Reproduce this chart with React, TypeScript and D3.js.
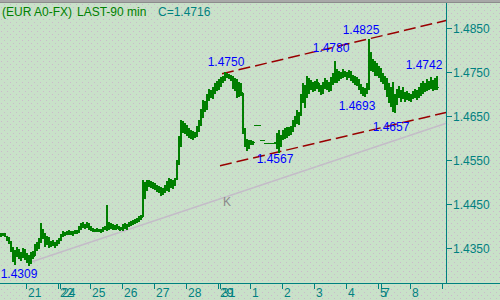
import React from "react";
import * as d3 from "d3";

const highs = [
  1.4384,1.4385,1.4383,1.4378,1.4374,1.4366,1.4352,1.4345,1.4352,1.4348,
  1.4342,1.4350,1.4347,1.4338,1.4334,1.4340,1.4344,1.4358,1.4364,1.4372,
  1.4407,1.4394,1.4384,1.4378,1.4376,1.4366,1.4368,1.4364,1.4368,1.4372,
  1.4382,1.4388,1.4387,1.4388,1.4390,1.4389,1.4388,1.4390,1.4392,1.4400,
  1.4406,1.4409,1.4404,1.4408,1.4406,1.4400,1.4396,1.4394,1.4396,1.4394,
  1.4393,1.4398,1.4400,1.4448,1.4408,1.4406,1.4404,1.4402,1.4404,1.4400,
  1.4398,1.4405,1.4406,1.4404,1.4410,1.4412,1.4414,1.4416,1.4418,1.4422,
  1.4425,1.4505,1.4500,1.4505,1.4504,1.4502,1.4500,1.4498,1.4494,1.4492,
  1.4488,1.4486,1.4494,1.4502,1.4508,1.4506,1.4504,1.4510,1.4550,1.4605,
  1.4641,1.4638,1.4634,1.4630,1.4622,1.4618,1.4616,1.4614,1.4628,1.4641,
  1.4665,1.4686,1.4684,1.4700,1.4712,1.4710,1.4716,1.4724,1.4730,1.4734,
  1.4738,1.4742,1.4750,1.4748,1.4746,1.4744,1.4740,1.4736,1.4734,1.4728,
  1.4726,1.4702,1.4622,1.4598,1.4596,1.4595,1.4594,1.4630,1.4630,1.4630,
  1.4595,1.4595,1.4589,1.4589,1.4589,1.4589,1.4589,1.4590,1.4612,1.4618,
  1.4606,1.4618,1.4622,1.4625,1.4624,1.4628,1.4640,1.4650,1.4664,1.4660,
  1.4700,1.4726,1.4720,1.4742,1.4736,1.4732,1.4728,1.4730,1.4734,1.4726,
  1.4720,1.4728,1.4736,1.4732,1.4728,1.4738,1.4748,1.4775,1.4756,1.4752,
  1.4750,1.4756,1.4752,1.4750,1.4754,1.4752,1.4744,1.4740,1.4738,1.4734,
  1.4722,1.4716,1.4714,1.4724,1.4825,1.4795,1.4780,1.4776,1.4770,1.4764,
  1.4758,1.4748,1.4742,1.4736,1.4724,1.4716,1.4728,1.4700,1.4712,1.4718,
  1.4708,1.4716,1.4704,1.4706,1.4702,1.4700,1.4706,1.4712,1.4708,1.4716,
  1.4724,1.4730,1.4726,1.4734,1.4730,1.4738,1.4732,1.4736,1.4742,
];

const lows = [
  1.4376,1.4377,1.4374,1.4366,1.4358,1.4340,1.4318,1.4312,1.4330,1.4326,
  1.4320,1.4328,1.4322,1.4316,1.4309,1.4314,1.4326,1.4332,1.4344,1.4348,
  1.4362,1.4370,1.4352,1.4356,1.4350,1.4352,1.4355,1.4350,1.4354,1.4358,
  1.4366,1.4376,1.4378,1.4380,1.4380,1.4379,1.4378,1.4381,1.4382,1.4384,
  1.4392,1.4396,1.4394,1.4396,1.4392,1.4389,1.4386,1.4386,1.4387,1.4386,
  1.4385,1.4387,1.4390,1.4388,1.4392,1.4394,1.4392,1.4391,1.4393,1.4390,
  1.4390,1.4389,1.4393,1.4392,1.4398,1.4400,1.4402,1.4404,1.4406,1.4410,
  1.4414,1.4420,1.4462,1.4480,1.4488,1.4486,1.4484,1.4482,1.4478,1.4474,
  1.4468,1.4470,1.4476,1.4480,1.4478,1.4486,1.4484,1.4492,1.4504,1.4538,
  1.4580,1.4612,1.4608,1.4604,1.4600,1.4598,1.4596,1.4600,1.4602,1.4614,
  1.4628,1.4646,1.4660,1.4664,1.4684,1.4690,1.4688,1.4700,1.4706,1.4710,
  1.4716,1.4724,1.4730,1.4736,1.4734,1.4730,1.4712,1.4706,1.4690,1.4694,
  1.4696,1.4610,1.4580,1.4570,1.4575,1.4584,1.4585,1.4630,1.4630,1.4630,
  1.4595,1.4595,1.4589,1.4589,1.4589,1.4589,1.4589,1.4586,1.4574,1.4567,
  1.4580,1.4596,1.4598,1.4600,1.4604,1.4606,1.4614,1.4624,1.4632,1.4630,
  1.4650,1.4680,1.4668,1.4690,1.4700,1.4708,1.4704,1.4706,1.4712,1.4704,
  1.4698,1.4700,1.4712,1.4710,1.4704,1.4706,1.4720,1.4726,1.4724,1.4730,
  1.4734,1.4736,1.4738,1.4732,1.4736,1.4730,1.4724,1.4720,1.4718,1.4710,
  1.4700,1.4696,1.4694,1.4700,1.4708,1.4752,1.4750,1.4742,1.4740,1.4736,
  1.4728,1.4722,1.4708,1.4694,1.4680,1.4670,1.4660,1.4657,1.4676,1.4690,
  1.4682,1.4688,1.4682,1.4686,1.4684,1.4682,1.4688,1.4690,1.4686,1.4692,
  1.4696,1.4700,1.4704,1.4706,1.4708,1.4712,1.4706,1.4708,1.4710,
];

const closes = [
  1.4380,1.4381,1.4377,1.4370,1.4362,1.4348,1.4330,1.4338,1.4344,1.4332,
  1.4335,1.4346,1.4330,1.4324,1.4318,1.4336,1.4332,1.4354,1.4350,1.4368,
  1.4388,1.4376,1.4366,1.4372,1.4358,1.4360,1.4362,1.4356,1.4364,1.4368,
  1.4378,1.4384,1.4382,1.4384,1.4386,1.4383,1.4385,1.4386,1.4388,1.4396,
  1.4402,1.4400,1.4398,1.4404,1.4394,1.4392,1.4390,1.4388,1.4392,1.4389,
  1.4388,1.4394,1.4395,1.4396,1.4404,1.4398,1.4396,1.4394,1.4400,1.4392,
  1.4394,1.4400,1.4396,1.4402,1.4406,1.4404,1.4410,1.4412,1.4414,1.4418,
  1.4420,1.4470,1.4490,1.4498,1.4494,1.4496,1.4488,1.4492,1.4484,1.4480,
  1.4476,1.4482,1.4490,1.4484,1.4500,1.4492,1.4498,1.4506,1.4540,1.4590,
  1.4630,1.4620,1.4626,1.4612,1.4606,1.4602,1.4610,1.4604,1.4622,1.4636,
  1.4658,1.4680,1.4670,1.4694,1.4706,1.4700,1.4712,1.4718,1.4722,1.4728,
  1.4732,1.4736,1.4744,1.4742,1.4740,1.4734,1.4720,1.4728,1.4700,1.4718,
  1.4704,1.4620,1.4590,1.4584,1.4590,1.4590,1.4592,1.4630,1.4630,1.4630,
  1.4595,1.4595,1.4589,1.4589,1.4589,1.4589,1.4589,1.4588,1.4600,1.4596,
  1.4598,1.4612,1.4604,1.4618,1.4610,1.4620,1.4636,1.4644,1.4640,1.4656,
  1.4690,1.4700,1.4712,1.4730,1.4718,1.4726,1.4712,1.4722,1.4728,1.4710,
  1.4714,1.4716,1.4730,1.4718,1.4712,1.4730,1.4742,1.4736,1.4746,1.4740,
  1.4742,1.4748,1.4744,1.4740,1.4746,1.4736,1.4730,1.4728,1.4722,1.4716,
  1.4706,1.4702,1.4708,1.4716,1.4790,1.4770,1.4758,1.4762,1.4748,1.4742,
  1.4734,1.4730,1.4716,1.4700,1.4690,1.4706,1.4676,1.4680,1.4700,1.4694,
  1.4700,1.4696,1.4690,1.4700,1.4692,1.4690,1.4702,1.4698,1.4694,1.4710,
  1.4704,1.4718,1.4712,1.4726,1.4716,1.4722,1.4718,1.4720,1.4716,
];

const firstOpen = 1.4382;

// day ticks (bar index positions) and labels
const dayTickIdx = [12.5, 28.5, 29.5, 44.5, 60.5, 76.5, 92.5, 108.5, 109.5, 124.5, 140.5, 156.5, 172.5, 188.5, 190, 204.5, 220.5];
const dayLabels = ["21", "22", "24", "25", "26", "27", "28", "29", "31", "1", "2", "3", "4", "5", "7", "8", ""];

const yMajorTicks = [1.435, 1.445, 1.455, 1.465, 1.475, 1.485];
const yMinorTicks = [1.43, 1.44, 1.45, 1.46, 1.47, 1.48];

// annotations: text, bar index, price, pixel offsets
const annoTexts = ["1.4750", "1.4780", "1.4825", "1.4742", "1.4693", "1.4657", "1.4567", "1.4309"];
const annoIdx = [112, 165, 184, 218, 181, 197, 139, 14];
const annoPrice = [1.475, 1.478, 1.4825, 1.4742, 1.4693, 1.4657, 1.4567, 1.4309];
const annoDx = [1, 0, -8, -13, -6, -4, -4, -10];
const annoDy = [-6, -7, -5, -7, 13, 18, 10, 12];

// trend lines: [startIdx, startPrice, endIdx, endPrice]
const upperLine = [110.5, 1.4746, 222.5, 1.4867];
const lowerLine = [109.5, 1.4537, 222.5, 1.4658];
const grayLine = [13.5, 1.4316, 223, 1.4634];

const TITLE_LEFT = "(EUR A0-FX)";
const TITLE_MID = "LAST-90 min";
const TITLE_C = "C=1.4716";

const W = 500;
const H = 300;
const AXIS_X = 446;
const AXIS_Y = 283;
const FONT = "'Liberation Sans', Arial, sans-serif";
const TEAL = "#008080";
const GREEN = "#007f00";

export default function App() {
  const x = d3.scaleLinear().domain([0, 220]).range([1, 441]);
  const y = d3.scaleLinear().domain([1.435, 1.485]).range([248, 28]);
  const fmt = d3.format(".4f");
  const px = (v: number) => Math.round(v) + 0.5;

  const lineGen = d3
    .line<[number, number]>()
    .x((d) => x(d[0]))
    .y((d) => y(d[1]));

  const seg = (l: number[]) => lineGen([[l[0], l[1]], [l[2], l[3]]]) || "";
  const grayAt = (i: number) =>
    grayLine[1] + ((i - grayLine[0]) * (grayLine[3] - grayLine[1])) / (grayLine[2] - grayLine[0]);

  return (
    <div style={{ width: W, height: H }}>
      <style>{`body{margin:0;}`}</style>
      <svg width={W} height={H} style={{ display: "block" }} fontFamily={FONT}>
        <defs>
          <pattern id="dots" width="6" height="6" patternUnits="userSpaceOnUse">
            <rect width="6" height="6" fill="#c9e1c9" />
            <rect x="1" y="1" width="1" height="1" fill="#ccb8cc" />
            <rect x="4" y="4" width="1" height="1" fill="#ccb8cc" />
          </pattern>
        </defs>
        <rect x={0} y={0} width={W} height={H} fill="url(#dots)" />
        <rect x={0} y={0} width={W} height={3} fill="#a8a8a8" />
        <line x1={0} x2={W} y1={2.5} y2={2.5} stroke="#8c8c8c" />

        {/* title */}
        <text x={2} y={16} fontSize={12} fill="#008000">{TITLE_LEFT}</text>
        <text x={77} y={16} fontSize={12} fill="#008000">{TITLE_MID}</text>
        <text x={158} y={16} fontSize={12} fill={TEAL}>{TITLE_C}</text>

        {/* gray trend line */}
        <path d={seg(grayLine)} stroke="#c4bcc8" strokeWidth={1.5} fill="none" />
        <text x={x(111)} y={y(grayAt(111)) + 8} fontSize={12} fill="#8a8a8a">
          K
        </text>

        {/* channel lines */}
        <path d={seg(upperLine)} stroke="#990000" strokeWidth={1.5} strokeDasharray="12,5" fill="none" />
        <path d={seg(lowerLine)} stroke="#990000" strokeWidth={1.5} strokeDasharray="12,5" fill="none" />

        {/* OHLC bars (open = previous close) */}
        <g stroke={GREEN} shapeRendering="crispEdges">
          {highs.map((h, i) => {
            const cx = Math.round(x(i));
            const yh = Math.round(y(h));
            const yl = Math.round(y(lows[i]));
            const yc = px(y(closes[i]));
            const yo = px(y(i === 0 ? firstOpen : closes[i - 1]));
            return (
              <g key={i}>
                <line x1={cx} x2={cx} y1={yh} y2={Math.max(yl, yh + 1)} strokeWidth={2} />
                <line x1={cx - 2} x2={cx} y1={yo} y2={yo} strokeWidth={1} />
                <line x1={cx} x2={cx + 2} y1={yc} y2={yc} strokeWidth={1} />
              </g>
            );
          })}
        </g>

        {/* annotations */}
        {annoTexts.map((t, k) => (
          <text
            key={k}
            x={x(annoIdx[k]) + annoDx[k]}
            y={y(annoPrice[k]) + annoDy[k]}
            fontSize={12}
            fill="#0000ff"
            textAnchor="middle"
          >
            {t}
          </text>
        ))}

        {/* right axis */}
        <line x1={AXIS_X + 0.5} x2={AXIS_X + 0.5} y1={3} y2={AXIS_Y} stroke={TEAL} />
        {yMajorTicks.map((v) => (
          <g key={v}>
            <line x1={AXIS_X} x2={AXIS_X + 6} y1={px(y(v))} y2={px(y(v))} stroke={TEAL} />
            <text x={AXIS_X + 7} y={y(v) + 4.5} fontSize={12} fill={TEAL}>{fmt(v)}</text>
          </g>
        ))}
        {yMinorTicks.map((v) => (
          <line key={v} x1={AXIS_X} x2={AXIS_X + 3} y1={px(y(v + 0.005))} y2={px(y(v + 0.005))} stroke={TEAL} />
        ))}

        {/* bottom axis */}
        <line x1={0} x2={W} y1={AXIS_Y + 0.5} y2={AXIS_Y + 0.5} stroke={TEAL} />
        {dayTickIdx.map((d, k) => {
          const tx = px(x(d));
          return (
            <g key={k}>
              <line x1={tx} x2={tx} y1={AXIS_Y} y2={AXIS_Y + 6} stroke={TEAL} />
              <text x={tx + 1.5} y={297} fontSize={12} fill={TEAL}>{dayLabels[k]}</text>
            </g>
          );
        })}
      </svg>
    </div>
  );
}
